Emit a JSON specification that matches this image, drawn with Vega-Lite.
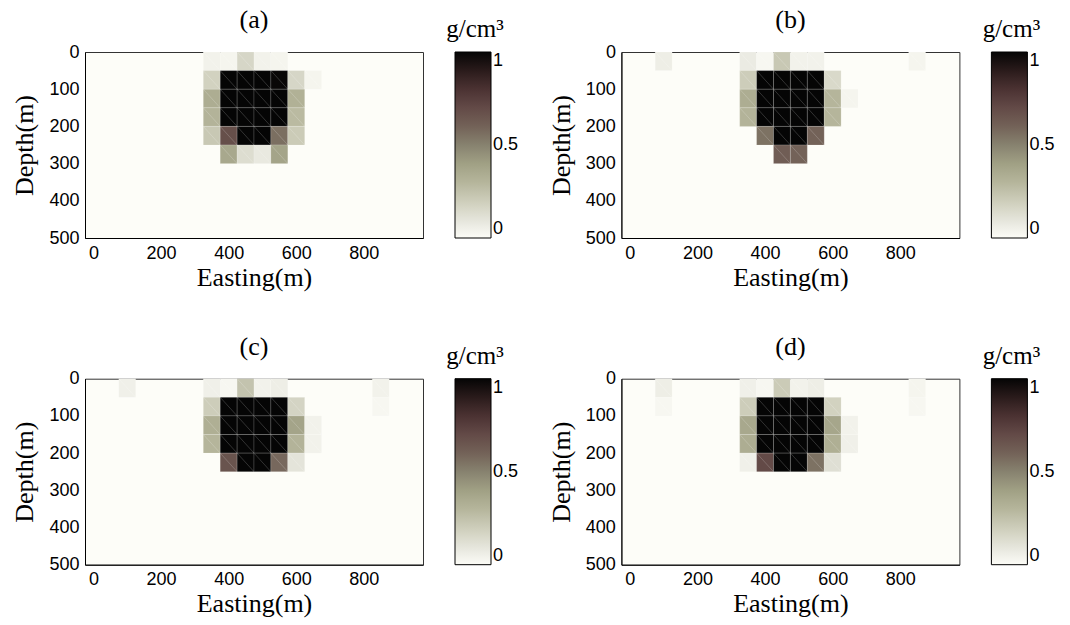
{
  "$schema": "https://vega.github.io/schema/vega-lite/v6.json",
  "background": "white",
  "padding": {"left": 11, "top": 6, "right": 0, "bottom": 0},
  "bounds": "flush",
  "columns": 2,
  "spacing": {"row": 140.7, "column": 198.4},
  "datasets": {
    "cells": [
      {"panel":"(a)","east":350,"depth":25,"rho":0.04},{"panel":"(a)","east":400,"depth":25,"rho":0.03},{"panel":"(a)","east":450,"depth":25,"rho":0.16},{"panel":"(a)","east":500,"depth":25,"rho":0.04},{"panel":"(a)","east":550,"depth":25,"rho":0.03},
      {"panel":"(a)","east":350,"depth":75,"rho":0.18},{"panel":"(a)","east":400,"depth":75,"rho":1},{"panel":"(a)","east":450,"depth":75,"rho":1},{"panel":"(a)","east":500,"depth":75,"rho":1},{"panel":"(a)","east":550,"depth":75,"rho":0.99},{"panel":"(a)","east":600,"depth":75,"rho":0.16},{"panel":"(a)","east":650,"depth":75,"rho":0.03},
      {"panel":"(a)","east":350,"depth":125,"rho":0.34},{"panel":"(a)","east":400,"depth":125,"rho":1},{"panel":"(a)","east":450,"depth":125,"rho":1},{"panel":"(a)","east":500,"depth":125,"rho":1},{"panel":"(a)","east":550,"depth":125,"rho":1},{"panel":"(a)","east":600,"depth":125,"rho":0.32},
      {"panel":"(a)","east":350,"depth":175,"rho":0.31},{"panel":"(a)","east":400,"depth":175,"rho":1},{"panel":"(a)","east":450,"depth":175,"rho":1},{"panel":"(a)","east":500,"depth":175,"rho":1},{"panel":"(a)","east":550,"depth":175,"rho":1},{"panel":"(a)","east":600,"depth":175,"rho":0.28},
      {"panel":"(a)","east":350,"depth":225,"rho":0.22},{"panel":"(a)","east":400,"depth":225,"rho":0.68},{"panel":"(a)","east":450,"depth":225,"rho":1},{"panel":"(a)","east":500,"depth":225,"rho":1},{"panel":"(a)","east":550,"depth":225,"rho":0.56},{"panel":"(a)","east":600,"depth":225,"rho":0.21},
      {"panel":"(a)","east":400,"depth":275,"rho":0.36},{"panel":"(a)","east":450,"depth":275,"rho":0.13},{"panel":"(a)","east":500,"depth":275,"rho":0.08},{"panel":"(a)","east":550,"depth":275,"rho":0.38},

      {"panel":"(b)","east":100,"depth":25,"rho":0.06},{"panel":"(b)","east":350,"depth":25,"rho":0.07},{"panel":"(b)","east":400,"depth":25,"rho":0.02},{"panel":"(b)","east":450,"depth":25,"rho":0.22},{"panel":"(b)","east":500,"depth":25,"rho":0.04},{"panel":"(b)","east":550,"depth":25,"rho":0.04},{"panel":"(b)","east":850,"depth":25,"rho":0.03},
      {"panel":"(b)","east":350,"depth":75,"rho":0.2},{"panel":"(b)","east":400,"depth":75,"rho":1},{"panel":"(b)","east":450,"depth":75,"rho":1},{"panel":"(b)","east":500,"depth":75,"rho":1},{"panel":"(b)","east":550,"depth":75,"rho":1},{"panel":"(b)","east":600,"depth":75,"rho":0.15},
      {"panel":"(b)","east":350,"depth":125,"rho":0.34},{"panel":"(b)","east":400,"depth":125,"rho":1},{"panel":"(b)","east":450,"depth":125,"rho":1},{"panel":"(b)","east":500,"depth":125,"rho":1},{"panel":"(b)","east":550,"depth":125,"rho":1},{"panel":"(b)","east":600,"depth":125,"rho":0.3},{"panel":"(b)","east":650,"depth":125,"rho":0.03},
      {"panel":"(b)","east":350,"depth":175,"rho":0.31},{"panel":"(b)","east":400,"depth":175,"rho":1},{"panel":"(b)","east":450,"depth":175,"rho":1},{"panel":"(b)","east":500,"depth":175,"rho":1},{"panel":"(b)","east":550,"depth":175,"rho":1},{"panel":"(b)","east":600,"depth":175,"rho":0.3},
      {"panel":"(b)","east":400,"depth":225,"rho":0.55},{"panel":"(b)","east":450,"depth":225,"rho":1},{"panel":"(b)","east":500,"depth":225,"rho":1},{"panel":"(b)","east":550,"depth":225,"rho":0.6},
      {"panel":"(b)","east":450,"depth":275,"rho":0.62},{"panel":"(b)","east":500,"depth":275,"rho":0.6},

      {"panel":"(c)","east":100,"depth":25,"rho":0.05},{"panel":"(c)","east":350,"depth":25,"rho":0.05},{"panel":"(c)","east":400,"depth":25,"rho":0.02},{"panel":"(c)","east":450,"depth":25,"rho":0.24},{"panel":"(c)","east":500,"depth":25,"rho":0.04},{"panel":"(c)","east":550,"depth":25,"rho":0.06},{"panel":"(c)","east":850,"depth":25,"rho":0.04},
      {"panel":"(c)","east":350,"depth":75,"rho":0.2},{"panel":"(c)","east":400,"depth":75,"rho":1},{"panel":"(c)","east":450,"depth":75,"rho":1},{"panel":"(c)","east":500,"depth":75,"rho":1},{"panel":"(c)","east":550,"depth":75,"rho":1},{"panel":"(c)","east":600,"depth":75,"rho":0.17},{"panel":"(c)","east":850,"depth":75,"rho":0.02},
      {"panel":"(c)","east":350,"depth":125,"rho":0.33},{"panel":"(c)","east":400,"depth":125,"rho":1},{"panel":"(c)","east":450,"depth":125,"rho":1},{"panel":"(c)","east":500,"depth":125,"rho":1},{"panel":"(c)","east":550,"depth":125,"rho":1},{"panel":"(c)","east":600,"depth":125,"rho":0.38},{"panel":"(c)","east":650,"depth":125,"rho":0.04},
      {"panel":"(c)","east":350,"depth":175,"rho":0.3},{"panel":"(c)","east":400,"depth":175,"rho":1},{"panel":"(c)","east":450,"depth":175,"rho":1},{"panel":"(c)","east":500,"depth":175,"rho":1},{"panel":"(c)","east":550,"depth":175,"rho":1},{"panel":"(c)","east":600,"depth":175,"rho":0.31},{"panel":"(c)","east":650,"depth":175,"rho":0.04},
      {"panel":"(c)","east":400,"depth":225,"rho":0.66},{"panel":"(c)","east":450,"depth":225,"rho":1},{"panel":"(c)","east":500,"depth":225,"rho":1},{"panel":"(c)","east":550,"depth":225,"rho":0.58},{"panel":"(c)","east":600,"depth":225,"rho":0.1},

      {"panel":"(d)","east":100,"depth":25,"rho":0.06},{"panel":"(d)","east":350,"depth":25,"rho":0.05},{"panel":"(d)","east":400,"depth":25,"rho":0.02},{"panel":"(d)","east":450,"depth":25,"rho":0.21},{"panel":"(d)","east":500,"depth":25,"rho":0.04},{"panel":"(d)","east":550,"depth":25,"rho":0.06},{"panel":"(d)","east":850,"depth":25,"rho":0.03},
      {"panel":"(d)","east":100,"depth":75,"rho":0.02},{"panel":"(d)","east":350,"depth":75,"rho":0.2},{"panel":"(d)","east":400,"depth":75,"rho":1},{"panel":"(d)","east":450,"depth":75,"rho":1},{"panel":"(d)","east":500,"depth":75,"rho":1},{"panel":"(d)","east":550,"depth":75,"rho":1},{"panel":"(d)","east":600,"depth":75,"rho":0.18},{"panel":"(d)","east":850,"depth":75,"rho":0.02},
      {"panel":"(d)","east":350,"depth":125,"rho":0.36},{"panel":"(d)","east":400,"depth":125,"rho":1},{"panel":"(d)","east":450,"depth":125,"rho":1},{"panel":"(d)","east":500,"depth":125,"rho":1},{"panel":"(d)","east":550,"depth":125,"rho":1},{"panel":"(d)","east":600,"depth":125,"rho":0.37},{"panel":"(d)","east":650,"depth":125,"rho":0.04},
      {"panel":"(d)","east":350,"depth":175,"rho":0.34},{"panel":"(d)","east":400,"depth":175,"rho":1},{"panel":"(d)","east":450,"depth":175,"rho":1},{"panel":"(d)","east":500,"depth":175,"rho":1},{"panel":"(d)","east":550,"depth":175,"rho":1},{"panel":"(d)","east":600,"depth":175,"rho":0.33},{"panel":"(d)","east":650,"depth":175,"rho":0.05},
      {"panel":"(d)","east":350,"depth":225,"rho":0.05},{"panel":"(d)","east":400,"depth":225,"rho":0.7},{"panel":"(d)","east":450,"depth":225,"rho":1},{"panel":"(d)","east":500,"depth":225,"rho":1},{"panel":"(d)","east":550,"depth":225,"rho":0.55},{"panel":"(d)","east":600,"depth":225,"rho":0.12}
    ]
  },
  "data": {"name": "cells"},
  "resolve": {"scale": {"color": "independent"}, "legend": {"color": "independent"}},
  "concat": [
    {
      "title": "(a)", "width": 338, "height": 186,
      "transform": [{"filter": "datum.panel === '(a)'"}],
      "encoding": {
        "x": {"field": "east", "type": "quantitative", "scale": {"domain": [-25, 975], "nice": false, "zero": false}, "axis": {"values": [0, 200, 400, 600, 800], "title": "Easting(m)", "labelOverlap": false}},
        "y": {"field": "depth", "type": "quantitative", "scale": {"domain": [0, 500], "reverse": true, "nice": false, "zero": false}, "axis": {"values": [0, 100, 200, 300, 400, 500], "title": "Depth(m)", "labelOverlap": false}}
      },
      "layer": [
        {"mark": {"type": "rect", "width": 16.9, "height": 18.6, "stroke": "white", "strokeOpacity": 0.25, "strokeWidth": 0.6},
         "encoding": {
           "color": {"field": "rho", "type": "quantitative",
             "scale": {"domain": [0, 0.1, 0.2, 0.3, 0.4, 0.5, 0.6, 0.7, 0.8, 0.9, 1], "range": ["#fcfcf7", "#e4e4da", "#cdcdba", "#b5b59b", "#a0a084", "#87826f", "#736258", "#634a47", "#4b3232", "#2a1b1b", "#050505"], "interpolate": "rgb"},
             "legend": {"title": "g/cm³", "values": [0, 0.5, 1], "format": "~g", "orient": "none", "legendX": 361, "legendY": -35, "encode": {"title": {"update": {"dx": {"value": -12}}}}}}
         }},
        {"mark": {"type": "point", "shape": "M-0.9086,-1L0.9086,1", "size": 346, "filled": false, "stroke": "white", "strokeOpacity": 0.3, "strokeWidth": 0.6, "opacity": 1}}
      ]
    },
    {
      "title": "(b)", "width": 338, "height": 186,
      "transform": [{"filter": "datum.panel === '(b)'"}],
      "encoding": {
        "x": {"field": "east", "type": "quantitative", "scale": {"domain": [-25, 975], "nice": false, "zero": false}, "axis": {"values": [0, 200, 400, 600, 800], "title": "Easting(m)", "labelOverlap": false}},
        "y": {"field": "depth", "type": "quantitative", "scale": {"domain": [0, 500], "reverse": true, "nice": false, "zero": false}, "axis": {"values": [0, 100, 200, 300, 400, 500], "title": "Depth(m)", "labelOverlap": false}}
      },
      "layer": [
        {"mark": {"type": "rect", "width": 16.9, "height": 18.6, "stroke": "white", "strokeOpacity": 0.25, "strokeWidth": 0.6},
         "encoding": {
           "color": {"field": "rho", "type": "quantitative",
             "scale": {"domain": [0, 0.1, 0.2, 0.3, 0.4, 0.5, 0.6, 0.7, 0.8, 0.9, 1], "range": ["#fcfcf7", "#e4e4da", "#cdcdba", "#b5b59b", "#a0a084", "#87826f", "#736258", "#634a47", "#4b3232", "#2a1b1b", "#050505"], "interpolate": "rgb"},
             "legend": {"title": "g/cm³", "values": [0, 0.5, 1], "format": "~g", "orient": "none", "legendX": 361, "legendY": -35, "encode": {"title": {"update": {"dx": {"value": -12}}}}}}
         }},
        {"mark": {"type": "point", "shape": "M-0.9086,-1L0.9086,1", "size": 346, "filled": false, "stroke": "white", "strokeOpacity": 0.3, "strokeWidth": 0.6, "opacity": 1}}
      ]
    },
    {
      "title": "(c)", "width": 338, "height": 186,
      "transform": [{"filter": "datum.panel === '(c)'"}],
      "encoding": {
        "x": {"field": "east", "type": "quantitative", "scale": {"domain": [-25, 975], "nice": false, "zero": false}, "axis": {"values": [0, 200, 400, 600, 800], "title": "Easting(m)", "labelOverlap": false}},
        "y": {"field": "depth", "type": "quantitative", "scale": {"domain": [0, 500], "reverse": true, "nice": false, "zero": false}, "axis": {"values": [0, 100, 200, 300, 400, 500], "title": "Depth(m)", "labelOverlap": false}}
      },
      "layer": [
        {"mark": {"type": "rect", "width": 16.9, "height": 18.6, "stroke": "white", "strokeOpacity": 0.25, "strokeWidth": 0.6},
         "encoding": {
           "color": {"field": "rho", "type": "quantitative",
             "scale": {"domain": [0, 0.1, 0.2, 0.3, 0.4, 0.5, 0.6, 0.7, 0.8, 0.9, 1], "range": ["#fcfcf7", "#e4e4da", "#cdcdba", "#b5b59b", "#a0a084", "#87826f", "#736258", "#634a47", "#4b3232", "#2a1b1b", "#050505"], "interpolate": "rgb"},
             "legend": {"title": "g/cm³", "values": [0, 0.5, 1], "format": "~g", "orient": "none", "legendX": 361, "legendY": -35, "encode": {"title": {"update": {"dx": {"value": -12}}}}}}
         }},
        {"mark": {"type": "point", "shape": "M-0.9086,-1L0.9086,1", "size": 346, "filled": false, "stroke": "white", "strokeOpacity": 0.3, "strokeWidth": 0.6, "opacity": 1}}
      ]
    },
    {
      "title": "(d)", "width": 338, "height": 186,
      "transform": [{"filter": "datum.panel === '(d)'"}],
      "encoding": {
        "x": {"field": "east", "type": "quantitative", "scale": {"domain": [-25, 975], "nice": false, "zero": false}, "axis": {"values": [0, 200, 400, 600, 800], "title": "Easting(m)", "labelOverlap": false}},
        "y": {"field": "depth", "type": "quantitative", "scale": {"domain": [0, 500], "reverse": true, "nice": false, "zero": false}, "axis": {"values": [0, 100, 200, 300, 400, 500], "title": "Depth(m)", "labelOverlap": false}}
      },
      "layer": [
        {"mark": {"type": "rect", "width": 16.9, "height": 18.6, "stroke": "white", "strokeOpacity": 0.25, "strokeWidth": 0.6},
         "encoding": {
           "color": {"field": "rho", "type": "quantitative",
             "scale": {"domain": [0, 0.1, 0.2, 0.3, 0.4, 0.5, 0.6, 0.7, 0.8, 0.9, 1], "range": ["#fcfcf7", "#e4e4da", "#cdcdba", "#b5b59b", "#a0a084", "#87826f", "#736258", "#634a47", "#4b3232", "#2a1b1b", "#050505"], "interpolate": "rgb"},
             "legend": {"title": "g/cm³", "values": [0, 0.5, 1], "format": "~g", "orient": "none", "legendX": 361, "legendY": -35, "encode": {"title": {"update": {"dx": {"value": -12}}}}}}
         }},
        {"mark": {"type": "point", "shape": "M-0.9086,-1L0.9086,1", "size": 346, "filled": false, "stroke": "white", "strokeOpacity": 0.3, "strokeWidth": 0.6, "opacity": 1}}
      ]
    }
  ],
  "config": {
    "view": {"stroke": "#333333", "strokeWidth": 1, "fill": "#fdfdf8"},
    "font": "Liberation Serif",
    "title": {"font": "Liberation Serif", "fontSize": 26, "fontWeight": "normal", "color": "black", "offset": -16},
    "axis": {"labelFont": "Liberation Sans", "labelFontSize": 18, "labelColor": "black", "labelOverlap": false, "titleFont": "Liberation Serif", "titleFontSize": 26, "titleFontWeight": "normal", "titleColor": "black", "domainColor": "black", "ticks": false, "labelPadding": 6, "labelFlush": false, "grid": false},
    "axisX": {"titlePadding": 2},
    "axisY": {"titlePadding": 11},
    "legend": {"type": "gradient", "direction": "vertical", "gradientLength": 186, "gradientThickness": 36, "gradientStrokeColor": "black", "gradientStrokeWidth": 1, "labelFont": "Liberation Sans", "labelFontSize": 18, "labelColor": "black", "labelOffset": 6, "titleFont": "Liberation Serif", "titleFontSize": 25, "titleFontWeight": "normal", "titleColor": "black", "titlePadding": 10, "titleAnchor": "middle", "titleAlign": "center"}
  }
}
